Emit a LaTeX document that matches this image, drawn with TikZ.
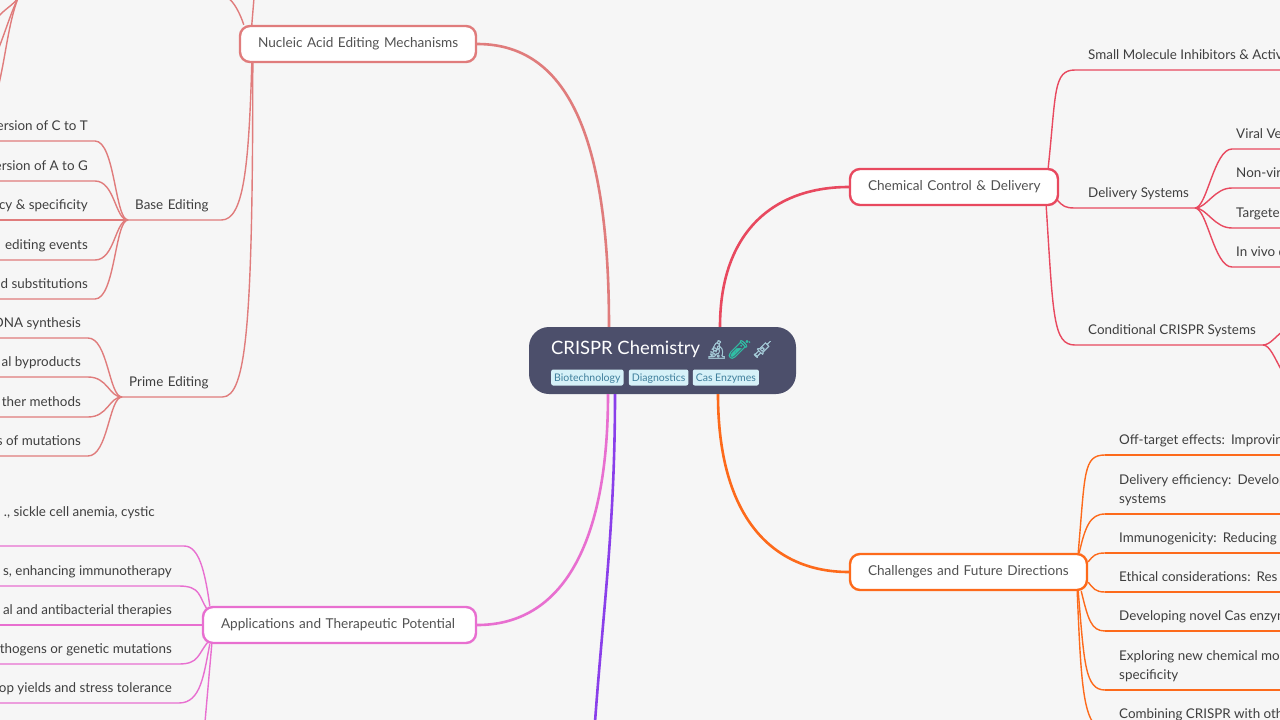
\documentclass[tikz,border=0pt]{standalone}
\usepackage{fontspec}
\usepackage{xcolor}
\usetikzlibrary{positioning}
\setmainfont{Lato}
\newfontfamily\emojifont[FakeBold=1.5]{Noto Emoji}
\definecolor{paper}{HTML}{F6F6F6}
\definecolor{inkgray}{HTML}{3F3F3F}
\definecolor{rootblue}{HTML}{4C4F6B}
\definecolor{tagblue}{HTML}{D6F1F8}
\definecolor{taginkblue}{HTML}{3F7F9C}
\definecolor{scopeblue}{HTML}{A3C9D6}
\definecolor{tubeteal}{HTML}{30BFA5}
\definecolor{nucleicred}{HTML}{E07C7C}
\definecolor{chemred}{HTML}{E8495F}
\definecolor{orangeline}{HTML}{FD6A1B}
\definecolor{pinkline}{HTML}{E86FD0}
\definecolor{purpleline}{HTML}{8A3FEA}
\tikzset{
    branch/.style={draw=#1, fill=white, line width=2.4pt, rounded corners=10pt, minimum height=36pt, inner xsep=18pt, inner ysep=0pt, text height=9pt, text depth=3pt, align=left, text=inkgray!90, font=\fontsize{13.6}{18}\selectfont},
    mainline/.style={draw=#1, line width=2.6pt},
    subline/.style={draw=#1, line width=1.4pt},
    tag/.style={fill=tagblue, text=taginkblue, rounded corners=2pt, inner xsep=3pt, inner ysep=0pt, minimum height=16pt, text height=10.5pt, text depth=2.5pt, font=\fontsize{10.5}{13}\selectfont},
    leafleft/.style={anchor=south east, inner xsep=7pt, inner ysep=7pt, text depth=3pt, text=inkgray, align=right, font=\fontsize{13.4}{19}\selectfont},
    leafright/.style={anchor=south west, inner xsep=#1, inner ysep=7pt, text depth=3pt, text=inkgray, align=left, font=\fontsize{13.4}{19}\selectfont},
}

\begin{document}
\begin{tikzpicture}[x=1pt, y=-1pt]
    \useasboundingbox (0,0) rectangle (1280,720);
    \clip (0,0) rectangle (1280,720);
    \fill[paper] (0,0) rectangle (1280,720);

    % centre
    \node[fill=rootblue, rounded corners=20pt, minimum width=267pt, minimum height=67pt, inner sep=0pt] (root) at (662.5,360.5) {};
    \node[anchor=west, inner sep=0pt, text=white, font=\fontsize{18.4}{24}\selectfont] (title) at (551,349) {CRISPR Chemistry};
    \node[anchor=west, inner sep=0pt, font=\emojifont\fontsize{18}{24}\selectfont] (icons) at (705,349.5) {\textcolor{scopeblue}{🔬}\textcolor{tubeteal}{🧪}\textcolor{scopeblue}{💉}};
    \node[tag, anchor=west] (biotech) at (551,377.5) {Biotechnology};
    \node[tag, right=5pt of biotech] (diagnostics) {Diagnostics};
    \node[tag, right=4pt of diagnostics] (enzymes) {Cas Enzymes};

    % first level
    \node[branch=nucleicred, text width=200pt] (nucleic) at (358,44) {Nucleic Acid Editing Mechanisms};
    \node[branch=pinkline, text width=237pt] (apps) at (339.5,625) {Applications and Therapeutic Potential};
    \node[branch=chemred, text width=172pt] (chem) at (954,187) {\mbox{Chemical Control \& Delivery}};
    \node[branch=orangeline, text width=201pt] (future) at (968.5,572) {Challenges and Future Directions};

    \draw[mainline=nucleicred] ([xshift=-53.5pt]root.north) .. controls +(0,-180) and +(95,0) .. (nucleic.east);
    \draw[mainline=pinkline] ([xshift=-54.5pt]root.south) .. controls +(0,150) and +(85,0) .. (apps.east);
    \draw[mainline=chemred] ([xshift=57.5pt]root.north) .. controls +(0,-95) and +(-75,0) .. (chem.west);
    \draw[mainline=orangeline] ([xshift=55.5pt]root.south) .. controls +(0,125) and +(-75,0) .. (future.west);
    \coordinate (purpleend) at (595,722);
    \draw[mainline=purpleline] ([xshift=-47.5pt]root.south) .. controls +(0,130) and +(8,-110) .. (purpleend);

    % nucleic acid side
    \node[anchor=south west, inner xsep=7pt, inner ysep=7pt, text depth=3pt, text width=79pt, align=left, text=inkgray, font=\fontsize{13.4}{19}\selectfont] (baseedit) at (128,220) {Base Editing};
    \node[anchor=south west, inner xsep=7pt, inner ysep=7pt, text depth=3pt, text width=86pt, align=left, text=inkgray, font=\fontsize{13.4}{19}\selectfont] (primeedit) at (122,397) {Prime Editing};
    \draw[subline=nucleicred] ([xshift=13pt]nucleic.south west) .. controls +(-3,105) and +(22,0) .. (baseedit.south east) -- (baseedit.south west);
    \draw[subline=nucleicred] ([xshift=14pt]nucleic.south west) .. controls +(0,260) and +(24,0) .. (primeedit.south east) -- (primeedit.south west);
    \coordinate (topa) at (254,-2);
    \coordinate (topb) at (228,-2);
    \draw[subline=nucleicred] ([xshift=13pt]nucleic.north west) -- (topa);
    \draw[subline=nucleicred] ([xshift=5pt]nucleic.north west) .. controls +(-4,-12) and +(6,4) .. (topb);
    \coordinate (fanhub) at (18,-2);
    \coordinate (fana) at (-2,17);
    \coordinate (fanb) at (-2,50);
    \coordinate (fanc) at (-2,88);
    \draw[subline=nucleicred] (fanhub) .. controls (12,6) and (6,8) .. (fana);
    \draw[subline=nucleicred] (fanhub) .. controls (10,15) and (6,30) .. (fanb);
    \draw[subline=nucleicred] (fanhub) .. controls (8,25) and (6,55) .. (fanc);

    \foreach \name/\y/\txt in {
        bea/141/ersion of C to T,
        beb/181/ersion of A to G,
        bec/220/cy \& specificity,
        bed/260/ editing events,
        bee/299/d substitutions}
    {
    \node[leafleft] (\name) at (95,\y) {\txt};
    \draw[subline=nucleicred] (baseedit.south west) .. controls +(-13,0) and +(20,0) .. (\name.south east) -- (\name.south west);
    }
    \foreach \name/\y/\txt in {
        pea/338/DNA synthesis,
        peb/377/al byproducts,
        pec/417/ther methods,
        ped/456/s of mutations}
    {
    \node[leafleft] (\name) at (88,\y) {\txt};
    \draw[subline=nucleicred] (primeedit.south west) .. controls +(-13,0) and +(20,0) .. (\name.south east) -- (\name.south west);
    }

    % applications side
    \node[leafleft] (appa) at (162,546) {., sickle cell anemia, cystic\\ \strut};
    \node[leafleft] (appb) at (179,586) {s, enhancing immunotherapy};
    \node[leafleft] (appc) at (179,625) {al and antibacterial therapies};
    \node[leafleft] (appd) at (179,664) {thogens or genetic mutations};
    \node[leafleft] (appe) at (179,703) {op yields and stress tolerance};
    \coordinate (appf) at (205,722);
    \draw[subline=pinkline] (appa.south west) -- (appa.south east) -- ++(22,0) .. controls +(15,0) and +(-5,-35) .. ([xshift=8pt]apps.north west);
    \draw[subline=pinkline] (appb.south west) -- (appb.south east) .. controls +(22,0) and +(-8,-12) .. ([xshift=5pt,yshift=-3pt]apps.north west);
    \draw[subline=pinkline] (appc.south west) -- (apps.west);
    \draw[subline=pinkline] (appd.south west) -- (appd.south east) .. controls +(20,0) and +(-10,12) .. ([xshift=6pt,yshift=2pt]apps.south west);
    \draw[subline=pinkline] (appe.south west) -- (appe.south east) .. controls +(22,0) and +(-6,30) .. ([xshift=8pt]apps.south west);
    \draw[subline=pinkline] ([xshift=10pt]apps.south west) -- (appf);

    % chemical control side
    \node[leafright=13pt] (smallmol) at (1075,70) {Small Molecule Inhibitors \& Activ};
    \node[leafright=13pt] (delivery) at (1075,208) {Delivery Systems};
    \node[leafright=13pt] (conditional) at (1075,345) {Conditional CRISPR Systems};
    \coordinate (deliveryhub) at (1195,208);
    \coordinate (conditionalhub) at (1263,345);
    \draw[subline=chemred] ([xshift=-11pt]chem.north east) .. controls +(8,-75) and +(-22,0) .. (smallmol.south west) -- (smallmol.south east);
    \draw[subline=chemred] ([xshift=-2pt,yshift=6pt]chem.south east) .. controls +(6,6) and +(-10,0) .. (delivery.south west) -- (deliveryhub);
    \draw[subline=chemred] ([xshift=-13pt]chem.south east) .. controls +(7,110) and +(-22,0) .. (conditional.south west) -- (conditionalhub);
    \foreach \name/\y/\txt in {
        dela/149/Viral Vec,
        delb/188/Non-vira,
        delc/228/Targete,
        deld/267/In vivo d}
    {
    \node[leafright=4pt] (\name) at (1232,\y) {\txt};
    \draw[subline=chemred] (deliveryhub) .. controls +(12,0) and +(-18,0) .. (\name.south west) -- (\name.south east);
    }
    \coordinate (conda) at (1282,332);
    \coordinate (condb) at (1282,371);
    \draw[subline=chemred] (conditionalhub) .. controls +(7,0) and +(-6,4) .. (conda);
    \draw[subline=chemred] (conditionalhub) .. controls +(7,0) and +(-7,-12) .. (condb);

    % challenges side
    \foreach \name/\y/\txt in {
        fua/455/{Off-target effects:\hspace{6pt}Improvin},
        fub/514/{Delivery efficiency:\hspace{6pt}Develop\\systems},
        fuc/553/{Immunogenicity:\hspace{6pt}Reducing},
        fud/592/{Ethical considerations:\hspace{6pt}Res},
        fue/631/{Developing novel Cas enzyn},
        fuf/690/{Exploring new chemical mo\\specificity},
        fug/729/{Combining CRISPR with oth}}
    {
    \node[leafright=14pt] (\name) at (1105,\y) {\txt};
    \draw[subline=orangeline] (\name.south west) -- (\name.south east);
    }
    \draw[subline=orangeline] ([xshift=-10pt]future.north east) .. controls +(7,-80) and +(-22,0) .. (fua.south west);
    \draw[subline=orangeline] ([xshift=-9pt]future.north east) .. controls +(6,-26) and +(-15,0) .. (fub.south west);
    \draw[subline=orangeline] ([yshift=-9pt]future.north east) .. controls +(5,-6) and +(-10,0) .. (fuc.south west);
    \draw[subline=orangeline] ([yshift=9pt]future.south east) .. controls +(5,6) and +(-10,0) .. (fud.south west);
    \draw[subline=orangeline] ([xshift=-7pt]future.south east) .. controls +(7,28) and +(-14,0) .. (fue.south west);
    \draw[subline=orangeline] ([xshift=-10pt]future.south east) .. controls +(6,72) and +(-20,0) .. (fuf.south west);
    \draw[subline=orangeline] ([xshift=-11pt]future.south east) .. controls +(4,95) and +(-22,0) .. (fug.south west);
\end{tikzpicture}
\end{document}
